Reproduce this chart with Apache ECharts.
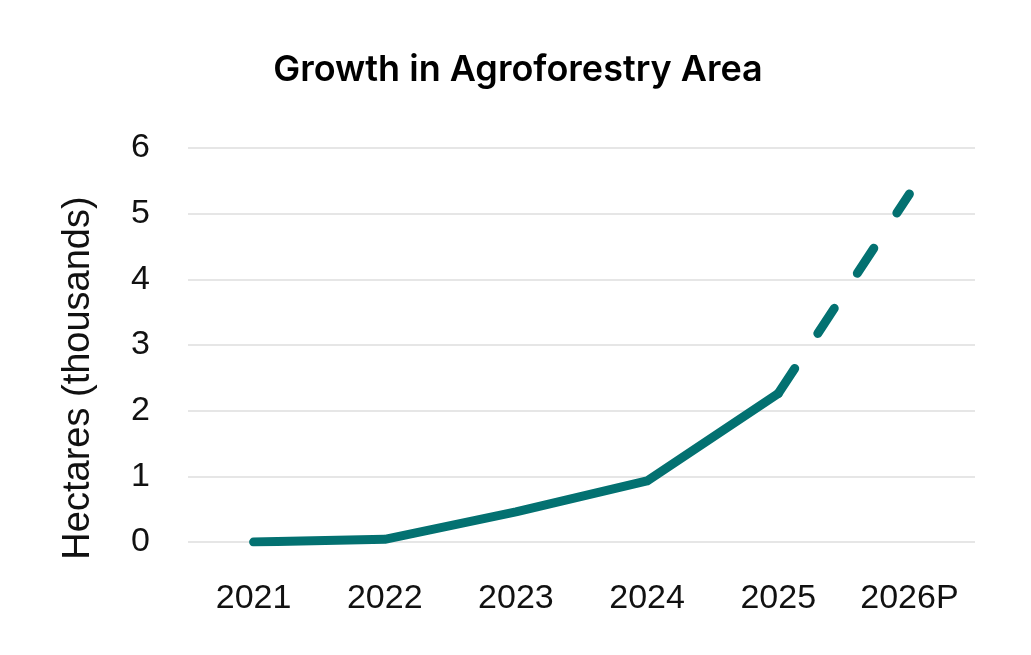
<!DOCTYPE html>
<html><head><meta charset="utf-8">
<script src="https://cdn.jsdelivr.net/npm/echarts@6/dist/echarts.min.js"></script>
<style>html,body{margin:0;padding:0;background:#fff}#c{width:1031px;height:655px}</style>
</head><body><div id="c"></div>
<script>
const categories = ['2021','2022','2023','2024','2025','2026P'];
const actualValues = [0, 0.04, 0.46, 0.93, 2.26, null];
const projectedValues = [null, null, null, null, 2.26, 5.3];
const yTicks = [0,1,2,3,4,5,6];
const color = '#037171';
const chart = echarts.init(document.getElementById('c'));
chart.setOption({
  animation: false,
  title: {
    text: 'Growth in Agroforestry Area',
    left: 513, top: 47, textAlign: 'center',
    textStyle: {fontFamily: 'Inter', fontWeight: 600, fontSize: 36, color: '#000'}
  },
  grid: {left: 188, right: 56, top: 148, bottom: 113},
  xAxis: {
    type: 'category', data: categories, boundaryGap: true,
    axisLine: {show: false}, axisTick: {show: false},
    axisLabel: {fontFamily: 'Liberation Sans', fontSize: 34, color: '#111', margin: 40}
  },
  yAxis: {
    type: 'value', min: 0, max: 6, interval: 1,
    name: 'Hectares (thousands)', nameLocation: 'middle', nameGap: 90,
    nameTextStyle: {fontFamily: 'Liberation Sans', fontSize: 38, color: '#111', padding: [0, 66, 0, 0]},
    axisLabel: {fontFamily: 'Liberation Sans', fontSize: 34, color: '#111', margin: 38,
      formatter: v => yTicks.includes(v) ? String(v) : ''},
    splitLine: {lineStyle: {color: '#e6e6e6', width: 2}}
  },
  series: [
    {type: 'line', data: actualValues, symbol: 'none', lineStyle: {color, width: 9, cap: 'round', join: 'round'}},
    {type: 'line', data: projectedValues, symbol: 'none', lineStyle: {color, width: 9, cap: 'round', type: [30, 42]}}
  ]
});
</script></body></html>
